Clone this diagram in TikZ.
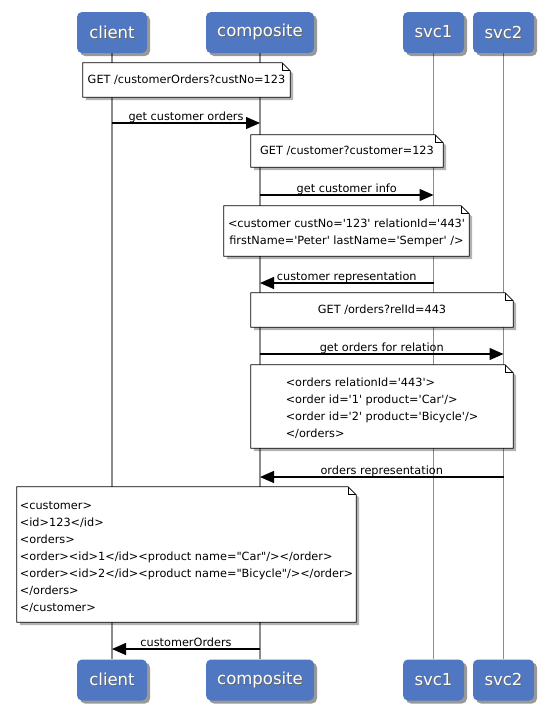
\documentclass[tikz,border=0pt]{standalone}
\usepackage{fontspec}
\setmainfont{DejaVu Sans}[Ligatures=TeXOff]
\usetikzlibrary{arrows.meta,shadows}
\pgfdeclarelayer{life}
\pgfdeclarelayer{notebg}
\pgfsetlayers{life,notebg,main}
\definecolor{partblue}{RGB}{80,120,194}
\definecolor{lifegray}{RGB}{140,140,140}
\newcommand\shtxt[1]{\makebox[0pt][l]{\raisebox{-1pt}{\hspace*{1pt}\textcolor{black!60}{#1}}}\textcolor{white}{#1}}
\newcommand\foldnote[1]{%
  \begin{pgfonlayer}{notebg}
  \fill[notesh] ([shift={(3,3)}]#1.south west) -- ([shift={(3,3)}]#1.north west)
     -- ([shift={(-5,3)}]#1.north east) -- ([shift={(3,11)}]#1.north east)
     -- ([shift={(3,3)}]#1.south east) -- cycle;
  \filldraw[notebox] (#1.south west) -- (#1.north west) -- ([xshift=-8pt]#1.north east)
     -- ([yshift=-8pt]#1.north east) -- (#1.south east) -- cycle;
  \draw[notebox,fill=none] ([xshift=-8pt]#1.north east) |- ([yshift=-8pt]#1.north east);
  \end{pgfonlayer}}
\begin{document}
\begin{tikzpicture}[x=1pt,y=-1pt,
  part/.style={rectangle, rounded corners=5pt, fill=partblue, minimum height=41pt, inner sep=0pt,
    font=\fontsize{16.5}{20}\selectfont,
    drop shadow={shadow xshift=3pt,shadow yshift=-3pt,opacity=0.4,fill=black}},
  life/.style={draw=lifegray, line width=1.5pt},
  msg/.style={draw=black, line width=1.3pt, -{Triangle[length=14pt,width=12pt]}},
  lbl/.style={anchor=base, yshift=3pt, inner sep=0pt, font=\fontsize{11.3}{13}\selectfont},
  notetxt/.style={inner sep=0pt, align=center, font=\fontsize{11.3}{17}\selectfont},
  notearea/.style={inner sep=0pt, draw=none},
  notebox/.style={draw=black, line width=0.7pt, fill=white},
  notesh/.style={fill=black, opacity=0.3}]
\useasboundingbox (0,0) rectangle (546,710);
% participants
\node[part, minimum width=70pt]  (clientT) at (112,32.5) {\shtxt{client}};
\node[part, minimum width=108pt] (compT)   at (260,32.5) {\shtxt{composite}};
\node[part, minimum width=61pt]  (svc1T)   at (433.5,32.5) {\shtxt{svc1}};
\node[part, minimum width=61pt]  (svc2T)   at (503.5,32.5) {\shtxt{svc2}};
\node[part, minimum width=70pt]  (clientB) at (112,680) {\shtxt{client}};
\node[part, minimum width=108pt] (compB)   at (260,680) {\shtxt{composite}};
\node[part, minimum width=61pt]  (svc1B)   at (433.5,680) {\shtxt{svc1}};
\node[part, minimum width=61pt]  (svc2B)   at (503.5,680) {\shtxt{svc2}};
% lifelines
\begin{pgfonlayer}{life}
\draw[life] (clientT.south) -- (clientB.north);
\draw[life] (compT.south) -- (compB.north);
\draw[life] (svc1T.south) -- (svc1B.north);
\draw[life] (svc2T.south) -- (svc2B.north);
\end{pgfonlayer}
% notes
\node[notetxt, minimum width=207pt, minimum height=34pt] (n1) at (186.5,80) {GET /customerOrders?custNo=123};
\foldnote{n1}
\node[notetxt, minimum width=192pt, minimum height=32pt] (n2) at (347,151) {GET /customer?customer=123};
\foldnote{n2}
\node[notearea, minimum width=245pt, minimum height=50pt] (n3) at (346.5,231) {};
\foldnote{n3}
\node[notetxt] (n3t) at ([yshift=-2pt]n3.center) {<customer custNo='123' relationId='443'\\firstName='Peter' lastName='Semper' />};
\node[notetxt, minimum width=262pt, minimum height=34pt] (n4) at (382,310) {GET /orders?relId=443};
\foldnote{n4}
\node[notearea, minimum width=262pt, minimum height=83pt] (n5) at (382,406.5) {};
\foldnote{n5}
\node[notetxt, align=left] (n5t) at ([yshift=-2pt]n5.center) {<orders relationId='443'>\\<order id='1' product='Car'/>\\<order id='2' product='Bicycle'/>\\</orders>};
\node[notearea, minimum width=339pt, minimum height=135pt] (n6) at (186.5,554.5) {};
\foldnote{n6}
\node[notetxt, align=left] (n6t) at ([yshift=-2.5pt]n6.center) {<customer>\\<id>123</id>\\<orders>\\<order><id>1</id><product name="Car"/></order>\\<order><id>2</id><product name="Bicycle"/></order>\\</orders>\\</customer>};
% message end points on lifelines
\coordinate (m1a) at (112,123);   \coordinate (m1b) at (260,123);
\coordinate (m2a) at (260,195);   \coordinate (m2b) at (433.5,195);
\coordinate (m3a) at (433.5,283); \coordinate (m3b) at (260,283);
\coordinate (m4a) at (260,354);   \coordinate (m4b) at (503.5,354);
\coordinate (m5a) at (503.5,477); \coordinate (m5b) at (260,477);
\coordinate (m6a) at (260,649);   \coordinate (m6b) at (112,649);
\draw[msg] (m1a) -- node[lbl] (l1) {get customer orders} (m1b);
\draw[msg] (m2a) -- node[lbl] (l2) {get customer info} (m2b);
\draw[msg] (m3a) -- node[lbl] (l3) {customer representation} (m3b);
\draw[msg] (m4a) -- node[lbl] (l4) {get orders for relation} (m4b);
\draw[msg] (m5a) -- node[lbl] (l5) {orders representation} (m5b);
\draw[msg] (m6a) -- node[lbl] (l6) {customerOrders} (m6b);
\end{tikzpicture}
\end{document}
